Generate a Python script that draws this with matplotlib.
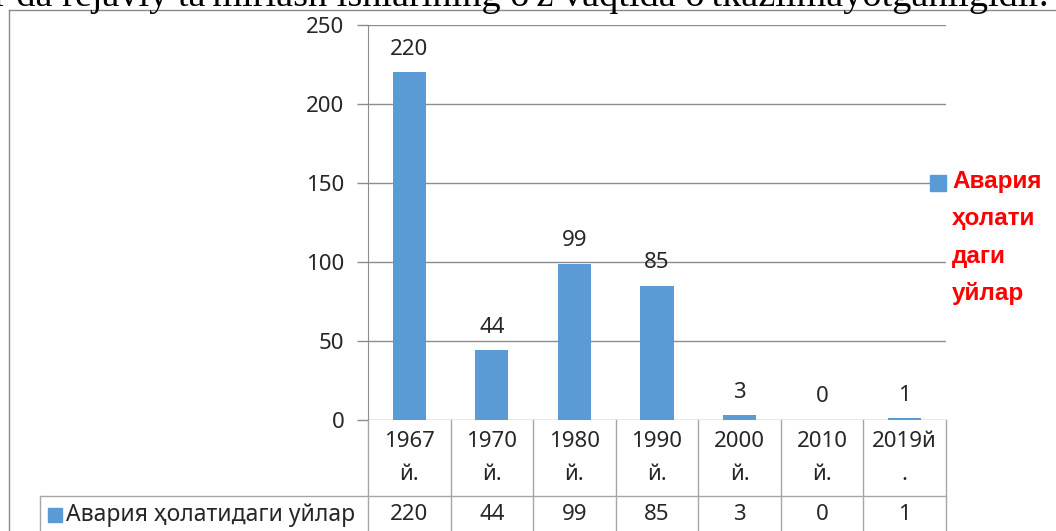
import matplotlib.pyplot as plt
from matplotlib.lines import Line2D
from matplotlib.transforms import blended_transform_factory

# data
years = ['1967\nй.', '1970\nй.', '1980\nй.', '1990\nй.', '2000\nй.', '2010\nй.', '2019й\n.']
houses = [220, 44, 99, 85, 3, 0, 1]
series_name = 'Авария ҳолатидаги уйлар'
legend_name = 'Авария\nҳолати\nдаги\nуйлар'
y_ticks = [0, 50, 100, 150, 200, 250]
caption = "r da rejaviy ta'mirlash ishlarining o'z vaqtida o'tkazilmayotganligidir."

W, H = 1056, 531
bar_color = '#5B9BD5'
grid_color = '#8c8c8c'
table_color = '#a6a6a6'
text_color = '#262626'
fs = 16

plt.rcParams['font.family'] = ['Noto Sans', 'DejaVu Sans']


def fx(px):
    return px / W


def fy(py):
    return 1 - py / H


fig = plt.figure(figsize=(W / 100, H / 100), dpi=100)
ax = fig.add_axes([fx(368), fy(420), fx(946 - 368), (420 - 25) / H])

xs = list(range(len(houses)))
bars = ax.bar(xs, houses, width=0.4, color=bar_color, zorder=3)
ax.bar_label(bars, padding=9, fontsize=fs, color=text_color)

ax.set_xlim(-0.5, len(houses) - 0.5)
ax.set_ylim(0, 250)
ax.set_yticks(y_ticks)
ax.set_xticks([])
ax.tick_params(axis='y', length=8, width=1, color=grid_color, labelsize=fs,
               labelcolor=text_color, pad=9)
ax.yaxis.grid(True, color=grid_color, lw=1)
ax.set_axisbelow(True)
for side in ['top', 'right', 'bottom']:
    ax.spines[side].set_visible(False)
ax.spines['left'].set_color(grid_color)

# data table under the axis
tr = blended_transform_factory(ax.transData, fig.transFigure)
for i in range(len(houses) + 1):
    fig.add_artist(Line2D([i - 0.5, i - 0.5], [fy(420), fy(531)], transform=tr,
                          color=table_color, lw=1))
fig.add_artist(Line2D([fx(40), fx(946)], [fy(496), fy(496)], color=table_color, lw=1))
fig.add_artist(Line2D([fx(40), fx(40)], [fy(496), fy(531)], color=table_color, lw=1))
for x, lab, v in zip(xs, years, houses):
    fig.text(x, fy(458), lab, transform=tr, ha='center', va='center', fontsize=fs,
             color=text_color, linespacing=1.75)
    fig.text(x, fy(515), str(v), transform=tr, ha='center', va='center', fontsize=fs,
             color=text_color)
fig.add_artist(Line2D([fx(55)], [fy(515)], marker='s', ms=10, color=bar_color, lw=0))
fig.text(fx(66), fy(515), series_name, ha='left', va='center', fontsize=16.5, color=text_color)

# legend on the right
fig.add_artist(Line2D([fx(938)], [fy(183)], marker='s', ms=11, color=bar_color, lw=0))
fig.text(fx(952), fy(170), legend_name, ha='left', va='top', fontsize=17.5,
         fontweight='bold', color='red', linespacing=1.8,
         family=['Liberation Sans', 'DejaVu Sans'])

# frame and the text line above it
fig.add_artist(Line2D([fx(9), fx(9)], [fy(10), 0], color='#8a8a8a', lw=1))
fig.add_artist(Line2D([fx(9), 1], [fy(10), fy(10)], color='#8a8a8a', lw=1))
fig.text(fx(-6), fy(6), caption, ha='left', va='baseline', fontsize=27.5,
         family='Liberation Serif', color='black')

fig.savefig('out.png', dpi=100)
